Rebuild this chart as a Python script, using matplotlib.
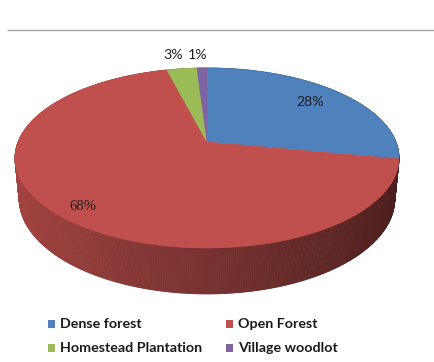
import numpy as np
import matplotlib
matplotlib.use("Agg")
import matplotlib.pyplot as plt
from matplotlib.patches import Polygon, Rectangle
from matplotlib.colors import to_rgb

categories = ["Dense forest", "Open Forest", "Homestead Plantation", "Village woodlot"]
shares = [28, 68, 3, 1]
colors = ["#4F81BD", "#C0504D", "#9BBB59", "#8064A2"]

W, H = 435, 362
fig = plt.figure(figsize=(W / 100, H / 100), dpi=100)
ax = fig.add_axes([0, 0, 1, 1])
ax.set_xlim(0, W)
ax.set_ylim(H, 0)
ax.axis("off")

# thin rule along the top of the chart area
ax.plot([7, W], [30, 30], color="#A6A6A6", lw=1.0, solid_capstyle="butt")

# --- perspective camera for the 3-D disc ---
phi = np.radians(27)
D = 5.0
thick = 0.24
sp, cp = np.sin(phi), np.cos(phi)


def project(X, Y, Z):
    X = np.asarray(X, float)
    Y = np.asarray(Y, float)
    Z = np.asarray(Z, float) * np.ones_like(X)
    vy = Y + D * cp
    vz = Z - D * sp
    dep = vy * cp - vz * sp
    up = vy * sp + vz * cp
    return X / dep, up / dep, dep


# screen box for the top face
left, right, top, bottom = 15, 399, 68, 248
tt = np.linspace(0, 2 * np.pi, 2000)
rx, ry, _ = project(np.sin(tt), np.cos(tt), 0)
xmin, xmax, ymin, ymax = rx.min(), rx.max(), ry.min(), ry.max()


def to_px(px, py):
    return (left + (px - xmin) / (xmax - xmin) * (right - left),
            top + (ymax - py) / (ymax - ymin) * (bottom - top))


def rim(theta, z=0.0, r=1.0):
    px, py, dep = project(r * np.sin(theta), r * np.cos(theta), z)
    x, y = to_px(px, py)
    return x, y, dep


# slice boundaries, clockwise from 12 o'clock
fr = np.array(shares, float) / np.sum(shares)
edges = np.concatenate([[0], np.cumsum(fr)]) * 2 * np.pi

# --- side wall ---
n = 720
ts = np.linspace(0, 2 * np.pi, n + 1)
quads = []
for k in range(n):
    t0, t1 = ts[k], ts[k + 1]
    tm = 0.5 * (t0 + t1)
    idx = np.searchsorted(edges, tm) - 1
    idx = min(max(idx, 0), len(shares) - 1)
    xa, ya, da = rim(np.array([t0, t1]), 0)
    xb, yb, _ = rim(np.array([t0, t1]), -thick)
    shade = 0.62 - 0.24 * np.sin(tm)
    col = np.clip(np.array(to_rgb(colors[idx])) * shade, 0, 1)
    quads.append((da.mean(), [(xa[0], ya[0]), (xa[1], ya[1]),
                               (xb[1], yb[1]), (xb[0], yb[0])], col))
quads.sort(key=lambda q: -q[0])
for _, pts, col in quads:
    ax.add_patch(Polygon(pts, closed=True, facecolor=col, edgecolor=col,
                         lw=0.6, zorder=2))

# --- top face wedges ---
cx, cy, _ = rim(np.array([0.0]), 0, r=0.0)
for i, col in enumerate(colors):
    th = np.linspace(edges[i], edges[i + 1], 200)
    x, y, _ = rim(th, 0)
    pts = np.column_stack([np.r_[cx, x], np.r_[cy, y]])
    ax.add_patch(Polygon(pts, closed=True, facecolor=col, edgecolor=col,
                         lw=0.4, zorder=3))

# --- data labels ---
lab_font = dict(family=["Lato", "DejaVu Sans"], fontsize=10.2, color="#1F1F1F",
                ha="center", va="center", zorder=5)
ax.text(310, 102, f"{shares[0]}%", **lab_font)
ax.text(83, 207, f"{shares[1]}%", family=["Liberation Serif", "DejaVu Serif"],
        fontsize=10.6, color="#1F1F1F", ha="center", va="center", zorder=5)
ax.text(173, 55, f"{shares[2]}%", **lab_font)
ax.text(198, 55, f"{shares[3]}%", **lab_font)

# --- legend ---
leg_pos = [(48, 324), (226, 324), (48, 348), (226, 348)]
for (lx, ly), name, col in zip(leg_pos, categories, colors):
    ax.add_patch(Rectangle((lx, ly - 3.8), 7.5, 7.5, facecolor=col,
                           edgecolor="none", zorder=5))
    ax.text(lx + 12, ly, name, family=["Lato", "DejaVu Sans"], fontsize=10.3,
            fontweight="bold", color="#1A1A1A", ha="left", va="center",
            zorder=5)

fig.savefig("out.png", dpi=100)
